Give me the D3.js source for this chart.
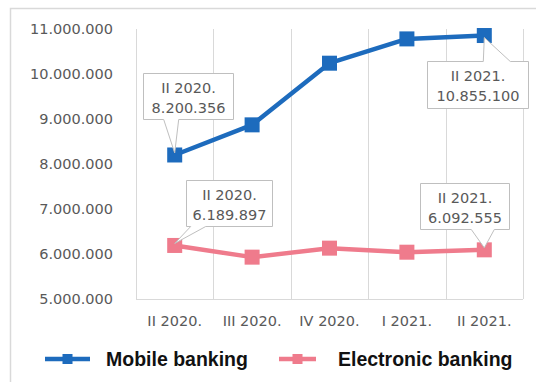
<!DOCTYPE html>
<html>
<head>
<meta charset="utf-8">
<script src="https://cdn.jsdelivr.net/npm/d3@7/dist/d3.min.js"></script>
<style>
  html, body { margin: 0; padding: 0; background: #fff; }
  svg { display: block; }
</style>
</head>
<body>
<svg id="chart" width="536" height="382"></svg>
<script>
// Quarterly user counts
const quarters = ["II 2020.", "III 2020.", "IV 2020.", "I 2021.", "II 2021."];
const mobileBanking = [8200356, 8870000, 10240000, 10780000, 10855100];
const electronicBanking = [6189897, 5930000, 6130000, 6040000, 6092555];
const yTicks = [5000000, 6000000, 7000000, 8000000, 9000000, 10000000, 11000000];
const seriesNames = ["Mobile banking", "Electronic banking"];

const blue = "#1d6bbd";
const pink = "#ef7b8c";
const gray = "#595959";
const gridColor = "#d9d9d9";
const font = "'DejaVu Sans', sans-serif";

const svg = d3.select("#chart");

// Outer chart frame (left and top edges visible)
svg.append("path")
  .attr("d", "M10.5,382 V8.5 H536")
  .attr("fill", "none").attr("stroke", gridColor).attr("stroke-width", 1.5);

const plotL = 136, plotR = 523, plotT = 29, plotB = 299;

const x = d3.scaleBand().domain(quarters).range([plotL, plotR]);
const y = d3.scaleLinear().domain([5000000, 11000000]).range([plotB, plotT]);
const cx = q => x(q) + x.bandwidth() / 2;

// Dot-grouped thousands, e.g. 11.000.000
const fmt = v => d3.format(",")(v).replace(/,/g, ".");

// Vertical gridlines on category boundaries
const bounds = quarters.map(q => x(q)).concat([x.range()[1]]);
svg.append("g").selectAll("line").data(bounds).join("line")
  .attr("x1", d => Math.round(d) + 0.5).attr("x2", d => Math.round(d) + 0.5)
  .attr("y1", plotT).attr("y2", plotB)
  .attr("stroke", gridColor).attr("stroke-width", 1);
svg.append("line")
  .attr("x1", plotL).attr("x2", plotR).attr("y1", plotB + 0.5).attr("y2", plotB + 0.5)
  .attr("stroke", gridColor).attr("stroke-width", 1);

// Y axis labels
const yAxis = svg.append("g").attr("transform", `translate(${plotL},0)`)
  .call(d3.axisLeft(y).tickValues(yTicks).tickSize(0).tickPadding(23).tickFormat(fmt));
yAxis.select(".domain").remove();
yAxis.selectAll("text").attr("fill", gray).style("font-family", font).style("font-size", "14.5px");

// X axis labels
const xAxis = svg.append("g").attr("transform", `translate(0,${plotB})`)
  .call(d3.axisBottom(x).tickSize(0).tickPadding(17));
xAxis.select(".domain").remove();
xAxis.selectAll("text").attr("fill", gray).style("font-family", font).style("font-size", "14.5px");

// Series lines and square markers
const line = d3.line().x((d, i) => cx(quarters[i])).y(d => y(d));
function drawSeries(values, color) {
  svg.append("path").datum(values)
    .attr("d", line).attr("fill", "none")
    .attr("stroke", color).attr("stroke-width", 4.5).attr("stroke-linejoin", "round");
  const s = 15;
  svg.append("g").selectAll("rect").data(values).join("rect")
    .attr("x", (d, i) => cx(quarters[i]) - s / 2)
    .attr("y", d => y(d) - s / 2)
    .attr("width", s).attr("height", s)
    .attr("fill", color);
}
drawSeries(electronicBanking, pink);
drawSeries(mobileBanking, blue);

// Data callouts: box offset from the point, pointer wedge on one edge
const callouts = [
  { values: mobileBanking, idx: 0, box: [-32, -82, 90, 46], side: "bottom", base: [-11, 4] },
  { values: mobileBanking, idx: 4, box: [-57, 25, 101, 47], side: "top", base: [-1, 26] },
  { values: electronicBanking, idx: 0, box: [11, -65, 86, 46], side: "bottom", base: [16, 31] },
  { values: electronicBanking, idx: 4, box: [-64, -67, 89, 46], side: "bottom", base: [-13, 10] }
];
callouts.forEach(c => {
  const px = cx(quarters[c.idx]), py = y(c.values[c.idx]);
  const [dx, dy, w, h] = c.box;
  const bx = Math.round(px + dx) + 0.5, by = Math.round(py + dy) + 0.5;
  const b0 = px + c.base[0], b1 = px + c.base[1];
  let d;
  if (c.side === "bottom") {
    d = `M${bx},${by} H${bx + w} V${by + h} H${b1} L${px},${py - 2} L${b0},${by + h} H${bx} Z`;
  } else {
    d = `M${bx},${by} H${b0} L${px},${py + 2} L${b1},${by} H${bx + w} V${by + h} H${bx} Z`;
  }
  svg.append("path").attr("d", d)
    .attr("fill", "#fff").attr("stroke", "#bfbfbf").attr("stroke-width", 1);
  const t = svg.append("text")
    .attr("text-anchor", "middle").attr("fill", gray)
    .style("font-family", font).style("font-size", "14.5px");
  t.append("tspan").attr("x", bx + w / 2).attr("y", by + 19).text(quarters[c.idx]);
  t.append("tspan").attr("x", bx + w / 2).attr("y", by + 39).text(fmt(c.values[c.idx]));
});

// Legend
const legend = [
  { name: seriesNames[0], color: blue, x0: 45, x1: 90, tx: 106 },
  { name: seriesNames[1], color: pink, x0: 279, x1: 316, tx: 338 }
];
const ly = 359;
legend.forEach(l => {
  svg.append("line").attr("x1", l.x0).attr("x2", l.x1).attr("y1", ly).attr("y2", ly)
    .attr("stroke", l.color).attr("stroke-width", 4.5);
  svg.append("rect").attr("x", (l.x0 + l.x1) / 2 - 5).attr("y", ly - 5)
    .attr("width", 10).attr("height", 10).attr("fill", l.color);
  svg.append("text").attr("x", l.tx).attr("y", ly + 7)
    .attr("fill", "#111")
    .style("font-family", "'Liberation Sans', Arial, sans-serif")
    .style("font-weight", "bold").style("font-size", "19.5px")
    .text(l.name);
});
</script>
</body>
</html>
